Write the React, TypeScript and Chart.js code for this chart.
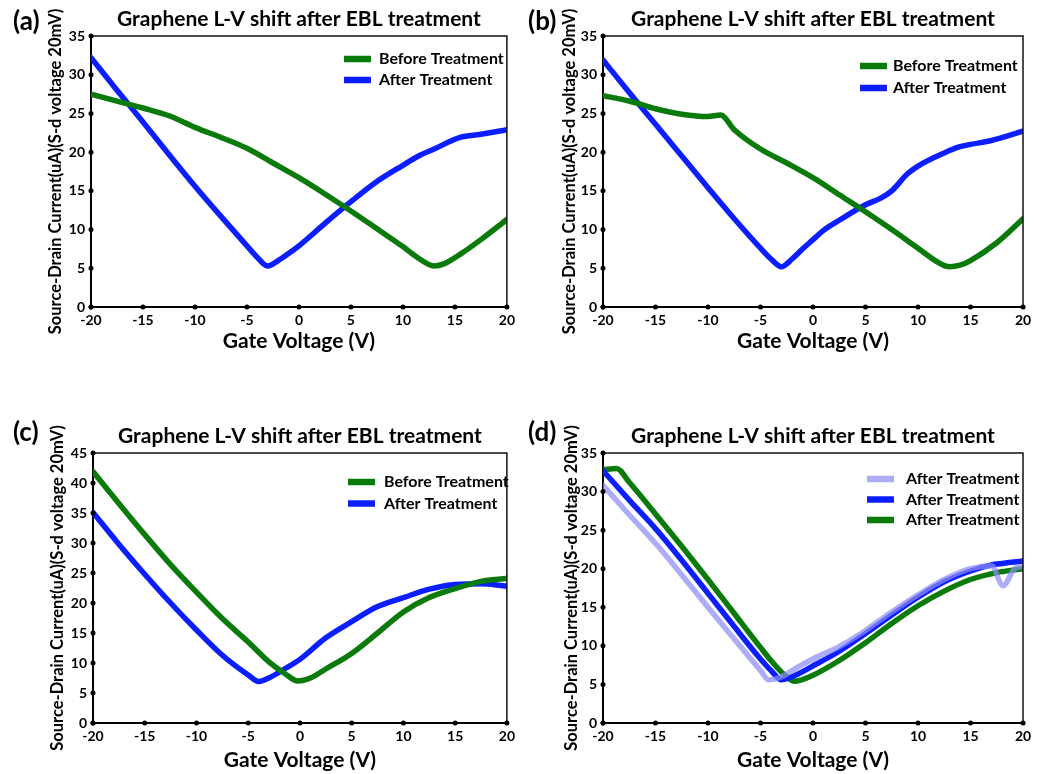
import React, { useEffect, useRef } from "react";
import { Chart, registerables } from "chart.js";

Chart.register(...registerables);

const FONT = "Lato, 'Open Sans', sans-serif";
const GREEN = "#0a7a0a";
const BLUE = "#0a1eff";
const LIGHT = "rgba(140,140,245,0.72)";

const titleText = "Graphene L-V shift after EBL treatment";
const xTitleText = "Gate Voltage (V)";
const yTitleText = "Source-Drain Current(uA)(S-d voltage 20mV)";
const labelBefore = "Before Treatment";
const labelAfter = "After Treatment";

// x axis range / ticks
const xMin = -20;
const xMax = 20;
const xStep = 5;
const yStep = 5;

// Panel (a)
const aBeforeX = [-20, -17.5, -15, -12.5, -10, -7.5, -5, -2.5, 0, 2.5, 5, 7.5, 10, 11.5, 13, 14, 15.5, 17.5, 20];
const aBeforeY = [27.5, 26.6, 25.7, 24.7, 23.2, 21.9, 20.5, 18.6, 16.7, 14.6, 12.4, 10.1, 7.8, 6.3, 5.3, 5.6, 6.8, 8.7, 11.3];
const aAfterX = [-20, -17.5, -15, -12.5, -10, -7.5, -5, -4, -3, -2, -1, 0, 2.5, 5, 7.5, 10, 11.5, 13, 15.5, 17.5, 20];
const aAfterY = [32.2, 28.0, 23.9, 19.7, 15.6, 11.7, 7.9, 6.4, 5.3, 6.0, 6.9, 7.9, 10.8, 13.6, 16.2, 18.3, 19.5, 20.4, 21.9, 22.3, 22.9];

// Panel (b)
const bBeforeX = [-20, -17.5, -15, -12.5, -10, -8.8, -7.5, -5, -2.5, 0, 2.5, 5, 7.5, 10, 12, 13, 14, 15, 17.5, 20];
const bBeforeY = [27.3, 26.6, 25.6, 24.9, 24.6, 24.8, 22.9, 20.4, 18.6, 16.7, 14.5, 12.3, 10.0, 7.6, 5.7, 5.2, 5.4, 6.0, 8.3, 11.4];
const bAfterX = [-20, -17.5, -15, -12.5, -10, -7.5, -5, -4, -3, -2, -1, 0, 1, 2.5, 5, 6.5, 7.5, 9, 10, 12.5, 14, 15, 17, 20];
const bAfterY = [31.9, 27.7, 23.6, 19.5, 15.4, 11.4, 7.6, 6.2, 5.2, 6.2, 7.5, 8.7, 9.9, 11.2, 13.2, 14.1, 15.0, 17.2, 18.2, 19.9, 20.7, 21.0, 21.5, 22.7];

// Panel (c)
const cBeforeX = [-20, -17.5, -15, -12.5, -10, -7.5, -5, -3, -1.5, -0.2, 1, 2.5, 5, 7.5, 10, 12.5, 15, 17.5, 20];
const cBeforeY = [41.9, 36.6, 31.4, 26.4, 21.8, 17.4, 13.5, 10.2, 8.3, 7.0, 7.5, 9.0, 11.6, 15.0, 18.5, 20.9, 22.4, 23.6, 24.1];
const cAfterX = [-20, -17.5, -15, -12.5, -10, -7.5, -5, -4, -3, -1.5, 0, 2.5, 5, 7.5, 10, 12.5, 15, 17.5, 20];
const cAfterY = [35.1, 29.8, 24.8, 20.0, 15.5, 11.3, 8.0, 6.9, 7.5, 9.0, 10.6, 14.2, 16.9, 19.4, 20.9, 22.3, 23.1, 23.2, 22.8];

// Panel (d)
const dLightX = [-20, -17.5, -15, -12.5, -10, -7.5, -5, -4.2, -3, -1.5, 0, 2.5, 5, 7.5, 10, 12.5, 15, 17, 18.1, 19.2, 20];
const dLightY = [30.8, 27.0, 23.3, 19.2, 15.0, 10.9, 6.8, 5.6, 6.0, 7.2, 8.3, 9.9, 12.0, 14.4, 16.6, 18.6, 20.0, 20.4, 17.8, 20.0, 20.3];
const dBlueX = [-20, -17.5, -15, -12.5, -10, -7.5, -5, -4, -3, -2, 0, 2.5, 5, 7.5, 10, 12.5, 15, 17, 17.5, 20];
const dBlueY = [32.7, 28.9, 25.2, 21.1, 16.8, 12.5, 8.3, 6.8, 5.6, 6.0, 7.4, 9.3, 11.6, 14.0, 16.3, 18.3, 19.7, 20.5, 20.6, 21.0];
const dGreenX = [-20, -18.7, -17.5, -15, -12.5, -10, -7.5, -5, -4, -3, -2.5, -1.8, 0, 2.5, 5, 7.5, 10, 12.5, 15, 17.5, 20];
const dGreenY = [32.8, 33.0, 31.2, 27.1, 22.9, 18.6, 14.2, 9.8, 8.1, 6.6, 6.0, 5.4, 6.2, 8.1, 10.4, 12.9, 15.2, 17.1, 18.6, 19.5, 20.0];

type Series = { label: string; xs: number[]; ys: number[]; color: string };
type Geo = {
  L: number; R: number; T: number; B: number;
  yMax: number;
  yTitleX: number; xTitleY: number;
  tag: string; tagX: number; tagY: number;
  titleY: number;
  legX: number; legY: number; legRow: number; legText: number;
};

const W = 520;
const H = 387;
const XH = 50;
const Y_TITLE_SIZE = 16.5;
const X_TITLE_SIZE = 21;

const decor = {
  id: "decor",
  afterDraw(chart: any, _args: any, opts: any) {
    const g: Geo = opts.geo;
    const { ctx, chartArea: a, scales } = chart;
    ctx.save();
    // frame top / right
    ctx.strokeStyle = "#111";
    ctx.lineWidth = 1.5;
    ctx.beginPath();
    ctx.moveTo(a.left, a.top);
    ctx.lineTo(a.right, a.top);
    ctx.lineTo(a.right, a.bottom);
    ctx.stroke();
    // tick dots
    ctx.fillStyle = "#000";
    for (const t of scales.x.ticks) {
      const px = scales.x.getPixelForValue(t.value);
      ctx.beginPath();
      ctx.arc(px, a.bottom, 2.5, 0, Math.PI * 2);
      ctx.fill();
    }
    for (const t of scales.y.ticks) {
      const py = scales.y.getPixelForValue(t.value);
      ctx.beginPath();
      ctx.arc(a.left, py, 2.5, 0, Math.PI * 2);
      ctx.fill();
    }
    // title
    ctx.fillStyle = "#000";
    ctx.textBaseline = "middle";
    ctx.textAlign = "center";
    ctx.font = `bold 21px ${FONT}`;
    ctx.fillText(titleText, (a.left + a.right) / 2, g.titleY);
    // panel tag
    ctx.textAlign = "left";
    ctx.font = `bold 26px ${FONT}`;
    ctx.fillText(g.tag, g.tagX, g.tagY);
    // legend
    ctx.font = `bold 16px ${FONT}`;
    chart.data.datasets.forEach((ds: any, i: number) => {
      const y = g.legY + i * g.legRow;
      ctx.strokeStyle = ds.borderColor;
      ctx.lineWidth = 6.5;
      ctx.lineCap = "butt";
      ctx.beginPath();
      ctx.moveTo(g.legX, y);
      ctx.lineTo(g.legX + 27, y);
      ctx.stroke();
      ctx.fillStyle = "#000";
      ctx.fillText(ds.label, g.legX + g.legText, y);
    });
    ctx.restore();
  },
};

function Panel({ geo, series, left, top }: { geo: Geo; series: Series[]; left: number; top: number }) {
  const ref = useRef<HTMLCanvasElement>(null);
  useEffect(() => {
    const g = geo;
    const tickFont = { family: FONT, size: 14, weight: "bold" as const };
    const chart = new Chart(ref.current as HTMLCanvasElement, {
      type: "line",
      data: {
        datasets: series.map((s) => ({
          label: s.label,
          data: s.xs.map((x, i) => ({ x, y: s.ys[i] })),
          borderColor: s.color,
          backgroundColor: s.color,
          borderWidth: 5.5,
          pointRadius: 0,
          pointHoverRadius: 0,
          fill: false,
          cubicInterpolationMode: "monotone" as const,
          borderCapStyle: "round" as const,
          borderJoinStyle: "round" as const,
        })),
      },
      options: {
        responsive: false,
        animation: false,
        devicePixelRatio: 1,
        events: [],
        layout: {
          padding: { left: 0, right: W - g.R, top: g.T, bottom: H - g.B - XH },
        },
        plugins: {
          legend: { display: false },
          tooltip: { enabled: false },
          title: { display: false },
          decor: { geo: g },
        } as any,
        scales: {
          x: {
            type: "linear",
            min: xMin,
            max: xMax,
            ticks: { stepSize: xStep, color: "#000", font: tickFont, padding: 5, maxRotation: 0 },
            grid: { display: false, drawTicks: false },
            border: { display: true, color: "#000", width: 2 },
            title: {
              display: true,
              text: xTitleText,
              color: "#000",
              font: { family: FONT, size: X_TITLE_SIZE, weight: "bold" },
              padding: { top: 0, bottom: g.B + XH - g.xTitleY - (X_TITLE_SIZE * 1.2) / 2 },
            },
            afterFit: (s: any) => {
              s.height = XH;
            },
          },
          y: {
            type: "linear",
            min: 0,
            max: g.yMax,
            ticks: { stepSize: yStep, color: "#000", font: tickFont, padding: 6 },
            grid: { display: false, drawTicks: false },
            border: { display: true, color: "#000", width: 2 },
            title: {
              display: true,
              text: yTitleText,
              color: "#000",
              font: { family: FONT, size: Y_TITLE_SIZE, weight: "bold" },
              padding: { top: g.yTitleX - (Y_TITLE_SIZE * 1.2) / 2, bottom: 0 },
            },
            afterFit: (s: any) => {
              s.width = g.L;
            },
          },
        },
      },
      plugins: [decor as any],
    });
    return () => chart.destroy();
  }, []);
  return (
    <canvas
      ref={ref}
      width={W}
      height={H}
      style={{ position: "absolute", left, top, width: W, height: H }}
    />
  );
}

const geoA: Geo = { L: 91, R: 510, T: 36, B: 307, yMax: 35, yTitleX: 56, xTitleY: 341, tag: "(a)", tagX: 13, tagY: 22, titleY: 19, legX: 344, legY: 59, legRow: 21, legText: 35 };
const geoB: Geo = { L: 83, R: 503, T: 36, B: 307, yMax: 35, yTitleX: 50, xTitleY: 341, tag: "(b)", tagX: 8, tagY: 22, titleY: 19, legX: 340, legY: 66, legRow: 22, legText: 33 };
const geoC: Geo = { L: 93, R: 513, T: 66, B: 336, yMax: 45, yTitleX: 58, xTitleY: 373, tag: "(c)", tagX: 13, tagY: 46, titleY: 49, legX: 348, legY: 95, legRow: 21.5, legText: 36 };
const geoD: Geo = { L: 83, R: 503, T: 66, B: 336, yMax: 35, yTitleX: 52, xTitleY: 373, tag: "(d)", tagX: 8, tagY: 46, titleY: 49, legX: 347, legY: 92, legRow: 20.5, legText: 39 };

export default function App() {
  return (
    <div style={{ position: "absolute", left: 0, top: 0, width: 1040, height: 774, background: "#fff" }}>
      <Panel
        geo={geoA}
        left={0}
        top={0}
        series={[
          { label: labelBefore, xs: aBeforeX, ys: aBeforeY, color: GREEN },
          { label: labelAfter, xs: aAfterX, ys: aAfterY, color: BLUE },
        ]}
      />
      <Panel
        geo={geoB}
        left={520}
        top={0}
        series={[
          { label: labelBefore, xs: bBeforeX, ys: bBeforeY, color: GREEN },
          { label: labelAfter, xs: bAfterX, ys: bAfterY, color: BLUE },
        ]}
      />
      <Panel
        geo={geoC}
        left={0}
        top={387}
        series={[
          { label: labelBefore, xs: cBeforeX, ys: cBeforeY, color: GREEN },
          { label: labelAfter, xs: cAfterX, ys: cAfterY, color: BLUE },
        ]}
      />
      <Panel
        geo={geoD}
        left={520}
        top={387}
        series={[
          { label: labelAfter, xs: dLightX, ys: dLightY, color: LIGHT },
          { label: labelAfter, xs: dBlueX, ys: dBlueY, color: BLUE },
          { label: labelAfter, xs: dGreenX, ys: dGreenY, color: GREEN },
        ]}
      />
    </div>
  );
}
